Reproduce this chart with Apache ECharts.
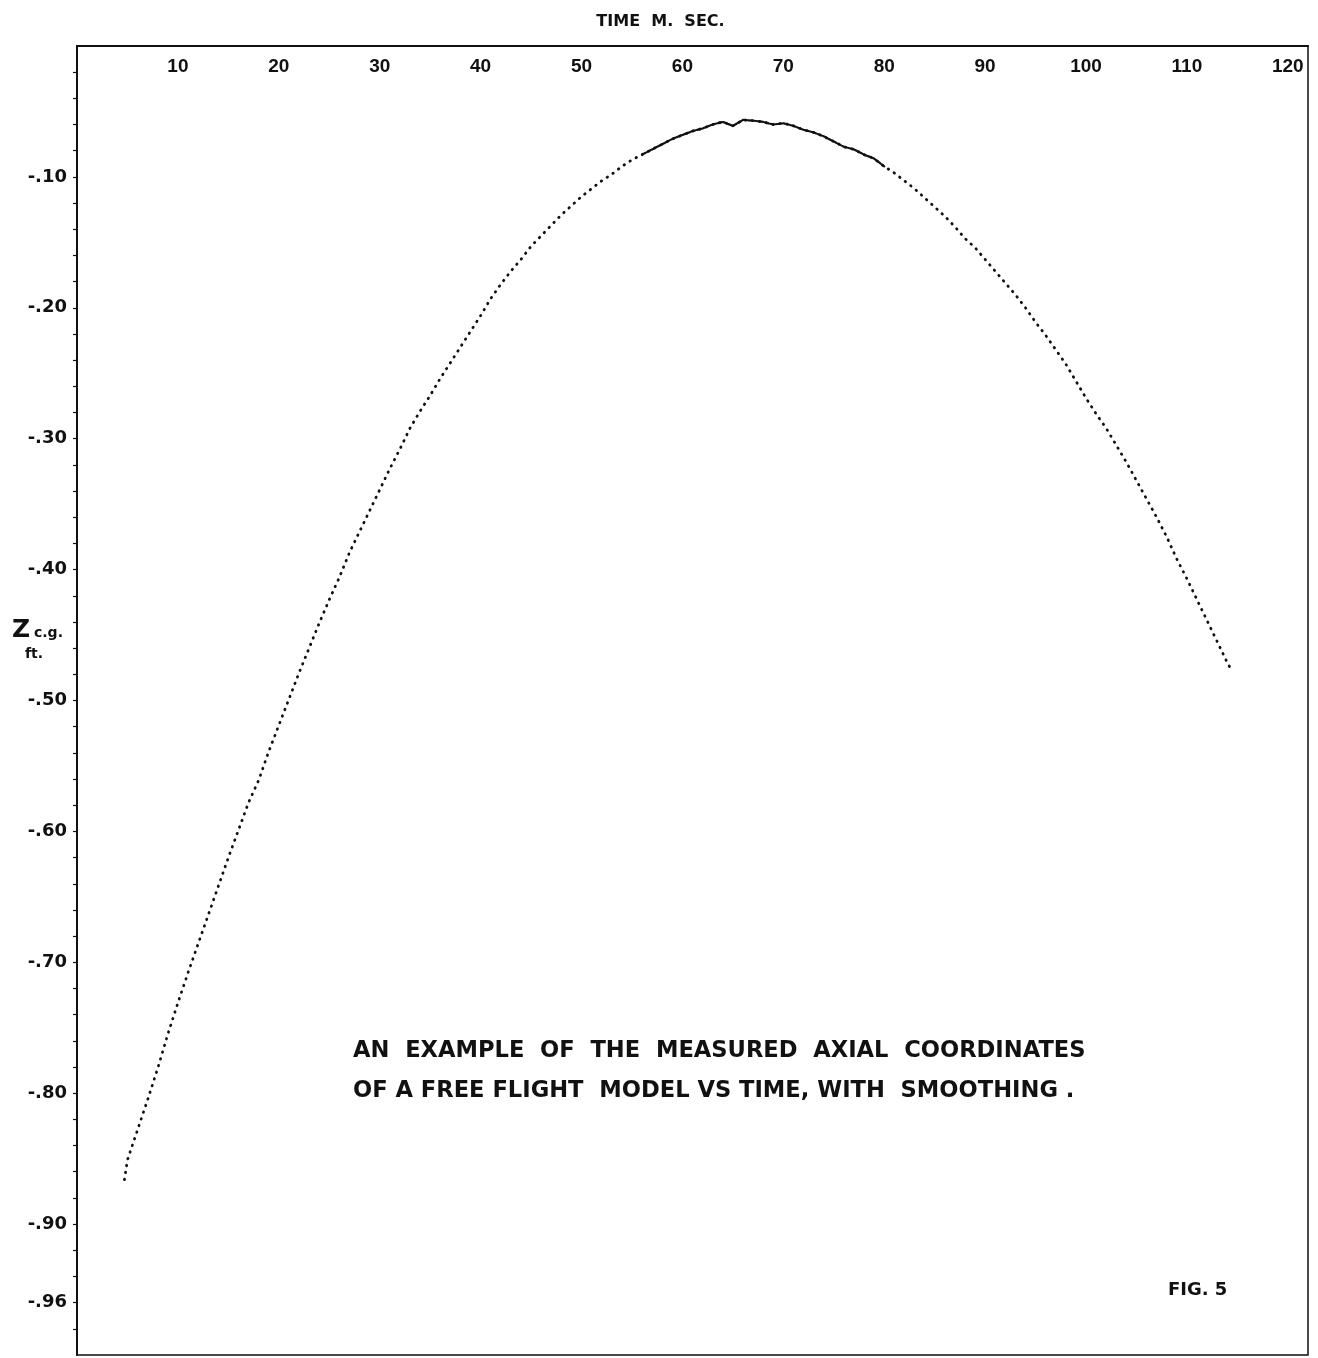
<!DOCTYPE html>
<html>
<head>
<meta charset="utf-8">
<script src="https://cdn.jsdelivr.net/npm/echarts@6/dist/echarts.min.js"></script>
<style>
  html, body { margin: 0; padding: 0; background: #fff; }
  #chart { width: 1318px; height: 1358px; }
</style>
</head>
<body>
<div id="chart"></div>
<script>
// Time (ms) of each plotted sample
const times = [4.7,
  5, 6, 7, 8, 9, 10, 11, 12, 13, 14, 15, 16, 17, 18, 19, 20,
  21, 22, 23, 24, 25, 26, 27, 28, 29, 30, 31, 32, 33, 34, 35, 36, 37, 38, 39, 40,
  41, 42, 43, 44, 45, 46, 47, 48, 49, 50, 51, 52, 53, 54, 55, 56, 57, 58, 59, 60,
  61, 62, 63, 64, 65, 66, 67, 68, 69, 70, 71, 72, 73, 74, 75, 76, 77, 78, 79, 80,
  81, 82, 83, 84, 85, 86, 87, 88, 89, 90, 91, 92, 93, 94, 95, 96, 97, 98, 99, 100,
  101, 102, 103, 104, 105, 106, 107, 108, 109, 110, 111, 112, 113, 114, 114.5];

// Z c.g. (ft)
const zValues = [-0.866,
  -0.851, -0.828, -0.805, -0.781, -0.755, -0.731, -0.708, -0.686, -0.664, -0.642, -0.620, -0.599, -0.578, -0.561, -0.539, -0.519,
  -0.499, -0.479, -0.460, -0.441, -0.423, -0.406, -0.387, -0.371, -0.355, -0.339, -0.323, -0.308, -0.292, -0.279, -0.267, -0.254, -0.242, -0.230, -0.218, -0.206,
  -0.193, -0.182, -0.172, -0.163, -0.153, -0.145, -0.137, -0.129, -0.122, -0.115, -0.109, -0.103, -0.098, -0.092, -0.087, -0.083, -0.079, -0.075, -0.071, -0.068,
  -0.065, -0.063, -0.060, -0.058, -0.061, -0.0565, -0.057, -0.058, -0.060, -0.059, -0.061, -0.064, -0.066, -0.069, -0.073, -0.077, -0.079, -0.083, -0.086, -0.092,
  -0.097, -0.103, -0.109, -0.116, -0.123, -0.130, -0.138, -0.147, -0.154, -0.163, -0.172, -0.181, -0.190, -0.200, -0.211, -0.221, -0.232, -0.243, -0.256, -0.269,
  -0.281, -0.292, -0.305, -0.318, -0.332, -0.346, -0.360, -0.375, -0.392, -0.407, -0.423, -0.439, -0.455, -0.471, -0.478];

// Axis tick labels
const xTickValues = [10, 20, 30, 40, 50, 60, 70, 80, 90, 100, 110, 120];
const xTickLabels = ['10', '20', '30', '40', '50', '60', '70', '80', '90', '100', '110', '120'];
const yTickValues = [-0.10, -0.20, -0.30, -0.40, -0.50, -0.60, -0.70, -0.80, -0.90, -0.96];
const yTickLabels = ['-.10', '-.20', '-.30', '-.40', '-.50', '-.60', '-.70', '-.80', '-.90', '-.96'];

const xAxisTitle = 'TIME  M.  SEC.';
const noteLine1 = 'AN  EXAMPLE  OF  THE  MEASURED  AXIAL  COORDINATES';
const noteLine2 = 'OF A FREE FLIGHT  MODEL VS TIME, WITH  SMOOTHING .';
const figLabel = 'FIG. 5';

const points = times.map((t, i) => [t, zValues[i]]);
const densePoints = points.filter(p => p[0] >= 56 && p[0] <= 80);

const INK = '#111';
const FONT = '"DejaVu Sans", "Liberation Sans", sans-serif';

const chart = echarts.init(document.getElementById('chart'), null, { renderer: 'canvas' });

chart.setOption({
  animation: false,
  backgroundColor: '#ffffff',
  grid: {
    left: 77, top: 46, width: 1231, height: 1309,
    show: true, borderColor: INK, borderWidth: 1.5, backgroundColor: 'transparent'
  },
  xAxis: {
    type: 'value', position: 'top', min: 0, max: 122, interval: 10,
    name: xAxisTitle, nameLocation: 'middle', nameGap: 16,
    nameTextStyle: { color: INK, fontFamily: FONT, fontWeight: 'bold', fontSize: 16, padding: [0, 64, 0, 0] },
    axisLine: { show: true, lineStyle: { color: INK, width: 2 } },
    axisTick: { show: false },
    splitLine: { show: false },
    axisLabel: {
      inside: true, margin: 11, color: INK,
      fontFamily: '"Liberation Sans", sans-serif', fontWeight: 'bold', fontSize: 19,
      showMinLabel: false, showMaxLabel: false,
      formatter: v => {
        const i = xTickValues.indexOf(Math.round(v));
        return i >= 0 ? xTickLabels[i] : '';
      }
    }
  },
  yAxis: {
    type: 'value', min: -1, max: 0, interval: 0.02,
    axisLine: { show: true, lineStyle: { color: INK, width: 2 } },
    axisTick: { show: true, length: 4, lineStyle: { color: INK, width: 1.2 } },
    splitLine: { show: false },
    axisLabel: {
      margin: 10, color: INK, fontFamily: FONT, fontWeight: 'bold', fontSize: 18,
      showMinLabel: false, showMaxLabel: false,
      formatter: v => {
        const r = Math.round(v * 100) / 100;
        const i = yTickValues.indexOf(r);
        return i >= 0 ? yTickLabels[i] : '';
      }
    }
  },
  series: [
    {
      type: 'line', data: points, showSymbol: false, smooth: false,
      lineStyle: { color: INK, width: 2.8, type: [0.5, 6.5], cap: 'round' },
      z: 3
    },
    {
      type: 'line', data: densePoints, showSymbol: false, smooth: false,
      lineStyle: { color: INK, width: 2.2, type: [4, 1.5], cap: 'round' },
      z: 4
    }
  ],
  graphic: [
    { type: 'text', left: 12, top: 618, style: { text: 'Z', font: 'bold 25px ' + FONT, fill: INK } },
    { type: 'text', left: 34, top: 626, style: { text: 'c.g.', font: 'bold 14px ' + FONT, fill: INK } },
    { type: 'text', left: 25, top: 647, style: { text: 'ft.', font: 'bold 14px ' + FONT, fill: INK } },
    { type: 'text', left: 353, top: 1040, style: { text: noteLine1, font: 'bold 22.6px ' + FONT, fill: INK } },
    { type: 'text', left: 353, top: 1080, style: { text: noteLine2, font: 'bold 22.6px ' + FONT, fill: INK } },
    { type: 'text', left: 1168, top: 1281, style: { text: figLabel, font: 'bold 18px ' + FONT, fill: INK } }
  ]
});
</script>
</body>
</html>
